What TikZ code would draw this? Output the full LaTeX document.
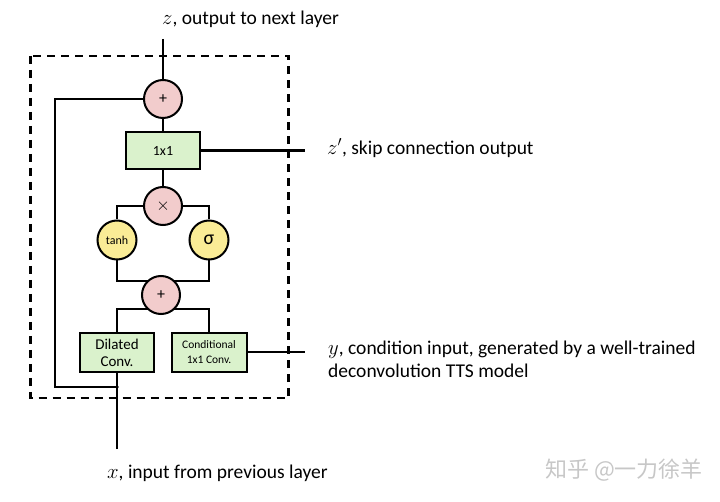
\documentclass[tikz,border=0pt]{standalone}
\usepackage{fontspec}
\setmainfont{Carlito}
\newfontfamily\cjk{Noto Sans CJK SC}
\usetikzlibrary{calc}
\pgfdeclarelayer{background}
\pgfsetlayers{background,main}
\definecolor{pinkc}{RGB}{242,204,204}
\definecolor{yelc}{RGB}{250,236,150}
\definecolor{grnc}{RGB}{218,242,204}
\tikzset{
  op/.style={circle,draw,line width=2pt,fill=pinkc,minimum size=38pt,inner sep=0pt},
  act/.style={circle,draw,line width=2pt,fill=yelc,minimum size=39pt,inner sep=0pt},
  blk/.style={draw,line width=2pt,fill=grnc,inner sep=0pt,align=center},
  wire/.style={line width=2.4pt,line join=miter},
  lbl/.style={anchor=west,inner sep=0pt,font=\fontsize{19.5}{23}\selectfont,align=left}
}
\begin{document}
\begin{tikzpicture}[x=1pt,y=-1pt]
\useasboundingbox (0,0) rectangle (720,502);
% dashed box
\draw[line width=2.3pt,dash pattern=on 8pt off 6pt] (30.5,56) rectangle (288.5,398);
% nodes
\node[op,font=\fontsize{16}{16}\selectfont] (plus1) at (163,99) {+};
\node[blk,minimum width=74pt,minimum height=37pt,font=\fontsize{14}{16}\selectfont] (c11) at (163,150.5) {1x1};
\node[op,font=\fontsize{19}{19}\selectfont] (mul) at (163,206) {$\times$};
\node[act,font=\fontsize{12}{13}\selectfont] (tanh) at (117,240) {tanh};
\node[act,font=\fontsize{20}{20}\selectfont] (sig) at (209,240) {σ};
\node[op,font=\fontsize{16}{16}\selectfont] (plus2) at (161,295) {+};
\node[blk,minimum width=74pt,minimum height=39pt,font=\fontsize{15}{17}\selectfont] (dil) at (117,352.5) {Dilated\\Conv.};
\node[blk,minimum width=75pt,minimum height=39pt,font=\fontsize{11.5}{15}\selectfont] (cond) at (209,352.5) {Conditional\\1x1 Conv.};
% free ends
\coordinate (ztop) at (163,39);
\coordinate (zout) at (305,150.5);
\coordinate (yin) at (305,352);
\coordinate (xin) at (117,449);
\coordinate (jn) at (117,387);
\coordinate (lc1) at (55,99);
\coordinate (lc2) at (55,387);
\begin{pgfonlayer}{background}
\draw[wire] (ztop) -- (plus1);
\draw[wire] (plus1) -- (c11);
\draw[wire] (c11) -- (mul);
\draw[wire] (c11.east) -- (zout);
\draw[wire] (plus1.west) -- (lc1) -- (lc2) -- (jn);
\draw[wire] (xin) -- (dil.south);
\draw[wire] (mul.west) -| (tanh.north);
\draw[wire] (mul.east) -| (sig.north);
\draw[wire] (tanh.south) -- (tanh.south |- 0,281) -- (sig.south |- 0,281) -- (sig.south);
\draw[wire] (dil.north) -- (dil.north |- 0,309) -- (cond.north |- 0,309) -- (cond.north);
\draw[wire] (cond.east |- yin) -- (yin);
\end{pgfonlayer}
\fill (jn) circle (1.8pt);
% labels
\node[lbl] (lz) at (162,19) {$z$, output to next layer};
\node[lbl] (lzp) at (327,148) {$z'$, skip connection output};
\node[lbl,anchor=north west] (ly) at (328,341) {$y$, condition input, generated by a well-trained\\deconvolution TTS model};
\node[lbl] (lx) at (107,473) {$x$, input from previous layer};
\node[anchor=west,inner sep=0pt,text=black!22,font=\cjk\fontsize{22}{24}\selectfont] (wm) at (545,470) {知乎 @一力徐羊};
\end{tikzpicture}
\end{document}
